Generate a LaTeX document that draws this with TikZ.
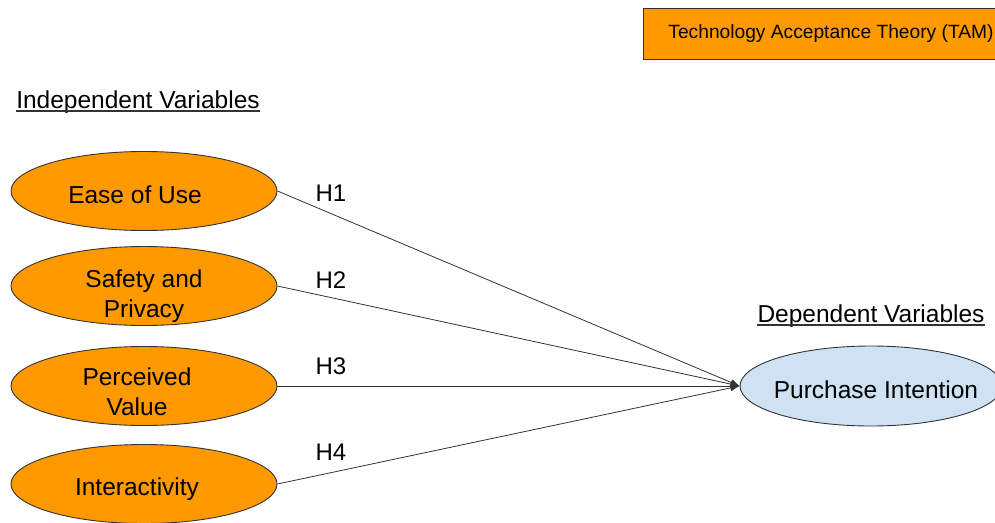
\documentclass[tikz,border=0pt]{standalone}
\usepackage{fontspec}
\setmainfont{Liberation Sans}
\usetikzlibrary{shapes.geometric,arrows.meta}
\definecolor{tamorange}{HTML}{FF9900}
\definecolor{depblue}{HTML}{CFE2F3}
\definecolor{edgegray}{HTML}{333333}
\begin{document}
\begin{tikzpicture}[x=1pt,y=-1pt,
  ivar/.style={ellipse,draw=edgegray,line width=0.9pt,fill=tamorange,minimum width=266pt,minimum height=79pt,inner sep=0pt},
  dvar/.style={ellipse,draw=edgegray,line width=0.9pt,fill=depblue,minimum width=262pt,minimum height=80pt,inner sep=0pt},
  etext/.style={align=center,inner sep=0pt,font=\fontsize{24.5}{30}\selectfont},
  lbl/.style={font=\fontsize{24.5}{28}\selectfont,inner sep=0pt,anchor=base},
  uline/.style={draw=black!80,line width=1.4pt},
  hyp/.style={font=\fontsize{24}{26}\selectfont,inner sep=0pt},
  link/.style={draw=edgegray,line width=0.8pt,-{Latex[length=9pt,width=7pt]}}]
\useasboundingbox (0,0) rectangle (995,522);
\fill[white] (0,0) rectangle (995,522);
% TAM box
\node[draw=edgegray,line width=0.9pt,fill=tamorange,minimum width=360pt,minimum height=51pt,inner sep=0pt] (tam) at (823,34) {};
\node[inner sep=0pt,font=\fontsize{19.2}{22}\selectfont] (tamt) at (831,34) {Technology Acceptance Theory (TAM)};
% headings
\node[lbl] (ind) at (138,108) {Independent Variables};
\draw[uline] ([yshift=-3pt]ind.base west) -- ([yshift=-3pt]ind.base east);
\node[lbl] (dep) at (871,322) {Dependent Variables};
\draw[uline] ([yshift=-3pt]dep.base west) -- ([yshift=-3pt]dep.base east);
% ellipses
\node[ivar] (e1) at (144,191) {};
\node[ivar] (e2) at (144,286) {};
\node[ivar] (e3) at (144,386) {};
\node[ivar] (e4) at (144,484) {};
\node[dvar] (pi) at (871,386) {};
\node[etext] (t1) at (135,195) {Ease of Use};
\node[etext] (t2) at (144,296) {Safety and\\Privacy};
\node[etext] (t3) at (137,392) {Perceived\\Value};
\node[etext] (t4) at (137,489) {Interactivity};
\node[etext] (tp) at (876,390) {Purchase Intention};
% connectors
\draw[link] (e1.east) -- (pi.west);
\draw[link] (e2.east) -- (pi.west);
\draw[link] (e3.east) -- (pi.west);
\draw[link] (e4.east) -- (pi.west);
% hypothesis labels
\node[hyp] (h1) at (331,193) {H1};
\node[hyp] (h2) at (331,280) {H2};
\node[hyp] (h3) at (331,366) {H3};
\node[hyp] (h4) at (331,452) {H4};
\end{tikzpicture}
\end{document}
